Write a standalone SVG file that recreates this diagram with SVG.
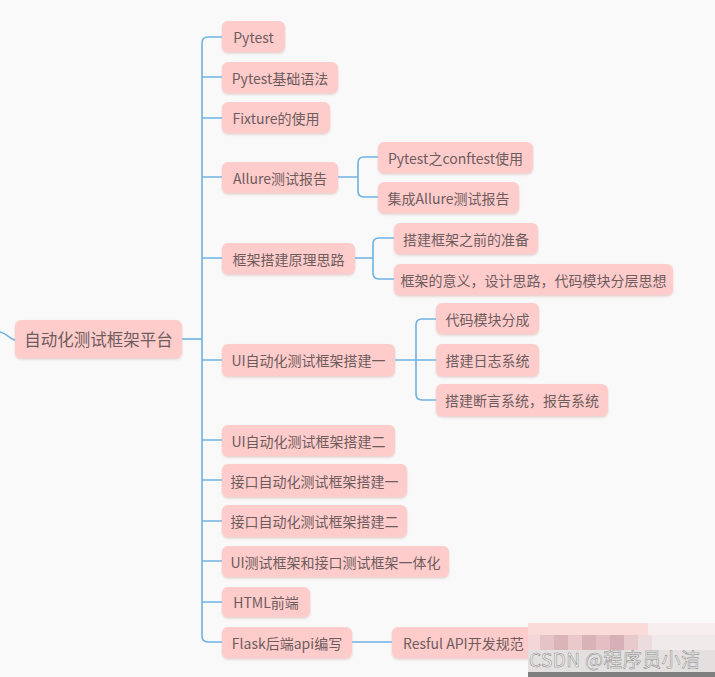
<svg xmlns="http://www.w3.org/2000/svg" width="715" height="677" viewBox="0 0 715 677">
<defs>
<filter id="sh" x="-10%" y="-20%" width="120%" height="150%">
<feDropShadow dx="0" dy="1.5" stdDeviation="1" flood-color="#c99" flood-opacity="0.45"/>
</filter>
</defs>
<style>
.n rect{fill:#ffcccc;filter:url(#sh)}
.n text{font-family:"Noto Sans CJK SC","Noto Sans",sans-serif;font-size:14px;fill:#6e5c5c;text-anchor:middle;dominant-baseline:central}
#root text{font-size:16.5px}
.c path{fill:none;stroke:#6eb2e2;stroke-width:1.6}
.wm{font-family:"Noto Sans CJK SC","Noto Sans",sans-serif;font-size:19px;fill:#f6f6f6;stroke:#858585;stroke-width:0.5}
</style>
<rect width="715" height="677" fill="#f9f9f9"/>
<g class="c" id="connectors">
<path d="M0,332 C6,333 10,339 15,340"/>
<path d="M182,339 H202"/>
<path d="M222,37 H208 Q202,37 202,43 V636 Q202,642 208,642 H222"/>
<path d="M202,77 H222 M202,118 H222 M202,177 H222 M202,258 H222 M202,360 H222 M202,440 H222 M202,480 H222 M202,521 H222 M202,561 H222 M202,602 H222"/>
<path d="M338,177 H358 M378,157 H364 Q358,157 358,163 V191 Q358,197 364,197 H378"/>
<path d="M355,258 H373 M394,238 H379 Q373,238 373,244 V273 Q373,279 379,279 H394"/>
<path d="M395,360 H436 M436,319 H422 Q416,319 416,325 V394 Q416,400 422,400 H436"/>
<path d="M352,642 H392"/>
</g>
<g class="n" id="root"><rect x="15" y="320" width="167" height="38" rx="6"/><text x="98.5" y="339">自动化测试框架平台</text></g>
<g class="n" id="n1"><rect x="222" y="21" width="63" height="31" rx="6"/><text x="253.5" y="36.5">Pytest</text></g>
<g class="n" id="n2"><rect x="222" y="62" width="116" height="31" rx="6"/><text x="280" y="77.5">Pytest基础语法</text></g>
<g class="n" id="n3"><rect x="222" y="102" width="108" height="31" rx="6"/><text x="276" y="117.5">Fixture的使用</text></g>
<g class="n" id="n4"><rect x="222" y="162" width="116" height="31" rx="6"/><text x="280" y="177.5">Allure测试报告</text></g>
<g class="n" id="n4a"><rect x="378" y="142" width="155" height="31" rx="6"/><text x="455.5" y="157.5">Pytest之conftest使用</text></g>
<g class="n" id="n4b"><rect x="378" y="182" width="141" height="31" rx="6"/><text x="448.5" y="197.5">集成Allure测试报告</text></g>
<g class="n" id="n5"><rect x="222" y="243" width="133" height="31" rx="6"/><text x="288.5" y="258.5">框架搭建原理思路</text></g>
<g class="n" id="n5a"><rect x="394" y="223" width="144" height="31" rx="6"/><text x="466" y="238.5">搭建框架之前的准备</text></g>
<g class="n" id="n5b"><rect x="394" y="264" width="279" height="31" rx="6"/><text x="533.5" y="279.5">框架的意义，设计思路，代码模块分层思想</text></g>
<g class="n" id="n6"><rect x="222" y="344" width="173" height="32" rx="6"/><text x="308.5" y="360">UI自动化测试框架搭建一</text></g>
<g class="n" id="n6a"><rect x="436" y="303" width="103" height="31" rx="6"/><text x="487.5" y="318.5">代码模块分成</text></g>
<g class="n" id="n6b"><rect x="436" y="344" width="103" height="32" rx="6"/><text x="487.5" y="360">搭建日志系统</text></g>
<g class="n" id="n6c"><rect x="436" y="384" width="172" height="32" rx="6"/><text x="522" y="400">搭建断言系统，报告系统</text></g>
<g class="n" id="n7"><rect x="222" y="425" width="173" height="31" rx="6"/><text x="308.5" y="440.5">UI自动化测试框架搭建二</text></g>
<g class="n" id="n8"><rect x="222" y="464" width="185" height="33" rx="6"/><text x="314.5" y="480.5">接口自动化测试框架搭建一</text></g>
<g class="n" id="n9"><rect x="222" y="505" width="185" height="32" rx="6"/><text x="314.5" y="521">接口自动化测试框架搭建二</text></g>
<g class="n" id="n10"><rect x="222" y="546" width="227" height="31" rx="6"/><text x="335.5" y="561.5">UI测试框架和接口测试框架一体化</text></g>
<g class="n" id="n11"><rect x="222" y="587" width="88" height="30" rx="6"/><text x="266" y="602">HTML前端</text></g>
<g class="n" id="n12"><rect x="222" y="627" width="130" height="31" rx="6"/><text x="287" y="642.5">Flask后端api编写</text></g>
<g class="n" id="n12a"><rect x="392" y="627" width="250" height="31" rx="6"/><text x="403" y="642.5" style="text-anchor:start">Resful API开发规范</text></g>
<g id="mosaic">
<rect x="528" y="623" width="120" height="12" fill="#fbdada"/>
<rect x="648" y="623" width="67" height="12" fill="#f6eeee"/>
<rect x="528" y="635" width="12" height="15" fill="#f2d6d8"/>
<rect x="540" y="635" width="14" height="15" fill="#e6c3c6"/>
<rect x="554" y="635" width="14" height="15" fill="#dbb4b9"/>
<rect x="568" y="635" width="14" height="15" fill="#ebc8ca"/>
<rect x="582" y="635" width="14" height="15" fill="#d9b2b8"/>
<rect x="596" y="635" width="14" height="15" fill="#e3bec2"/>
<rect x="610" y="635" width="14" height="15" fill="#d6b0b6"/>
<rect x="624" y="635" width="14" height="15" fill="#e9cacc"/>
<rect x="638" y="635" width="14" height="15" fill="#ecdcdd"/>
<rect x="652" y="635" width="63" height="15" fill="#f0eaea"/>
<rect x="528" y="650" width="187" height="22" fill="#e4e0e0"/>
<rect x="528" y="672" width="187" height="5" fill="#7f7f7f"/>
<text class="wm" x="529" y="667" textLength="171">CSDN @程序员小洁</text>
</g>
</svg>
